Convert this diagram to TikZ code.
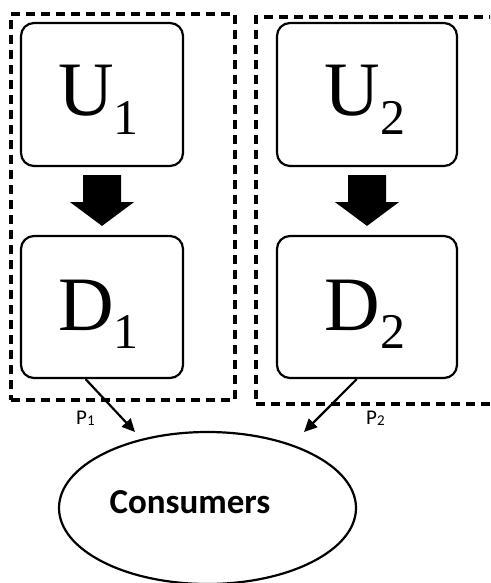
\documentclass[tikz,border=0pt]{standalone}
\usepackage{fontspec}
\setmainfont{Liberation Serif}
\newfontfamily\carlito{Carlito}
\usetikzlibrary{arrows.meta,shapes.geometric,calc}

\begin{document}
\begin{tikzpicture}[x=1pt,y=-1pt,
  firm/.style={draw, line width=2.2pt, rounded corners=13pt, inner sep=0pt},
  group/.style={draw, line width=3.5pt, dash pattern=on 9pt off 6pt, inner sep=0pt},
  price/.style={draw, line width=2.2pt, -{Triangle[length=13pt,width=12pt]}},
  big/.style={inner sep=0pt, anchor=base, font=\fontsize{77}{77}\selectfont},
  small/.style={inner sep=0pt, anchor=base west, font=\carlito\fontsize{21}{21}\selectfont}
]
\useasboundingbox (0,0) rectangle (490,583);
\clip (0,0) rectangle (490,583);

% dashed firm boundaries (the second one runs off the right edge)
\node[group, minimum width=224pt, minimum height=386pt] (G1) at (123,207) {};
\node[group, minimum width=250pt, minimum height=387pt] (G2) at (381,210.5) {};

% upstream and downstream boxes
\node[firm, minimum width=162pt, minimum height=143pt] (U1) at (102,94.5) {};
\node[firm, minimum width=162pt, minimum height=142pt] (D1) at (102,307) {};
\node[firm, minimum width=180pt, minimum height=143pt] (U2) at (367,94.5) {};
\node[firm, minimum width=180pt, minimum height=142pt] (D2) at (367,307) {};

% labels
\node[big] (u1t) at (98.5,115) {U\raisebox{-20pt}{\fontsize{50}{50}\selectfont 1}};
\node[big] (d1t) at (98.5,330) {D\raisebox{-18pt}{\fontsize{50}{50}\selectfont 1}};
\node[big] (u2t) at (365,115) {U\raisebox{-20pt}{\fontsize{50}{50}\selectfont 2}};
\node[big] (d2t) at (365,330) {D\raisebox{-18pt}{\fontsize{50}{50}\selectfont 2}};

% block arrows from upstream to downstream
\foreach \a/\b in {U1/D1,U2/D2}{
  \fill ($(\a.south)+(-19,8)$) -- ($(\a.south)+(19,8)$) -- ($(\a.south)+(19,35)$)
    -- ($(\a.south)+(32,35)$) -- ($(\b.north)+(0,-9)$)
    -- ($(\a.south)+(-32,35)$) -- ($(\a.south)+(-19,35)$) -- cycle;
}

% consumers
\node[ellipse, draw, line width=2.2pt, minimum width=297pt, minimum height=152pt, inner sep=0pt] (C) at (207.5,508) {};
\node[inner sep=0pt, anchor=base, font=\carlito\bfseries\fontsize{35}{35}\selectfont] (ct) at (190,513) {Consumers};

% price arrows
\coordinate (t1) at (135,432);
\coordinate (t2) at (304,432);
\draw[price] ($(D1.south west)!0.40!(D1.south east)$) -- (t1);
\draw[price] ($(D2.south west)!0.444!(D2.south east)$) -- (t2);
\node[small] (p1) at (76,424) {P\raisebox{-1pt}{\fontsize{15}{15}\selectfont 1}};
\node[small] (p2) at (366,424) {P\raisebox{-1pt}{\fontsize{15}{15}\selectfont 2}};
\end{tikzpicture}
\end{document}
